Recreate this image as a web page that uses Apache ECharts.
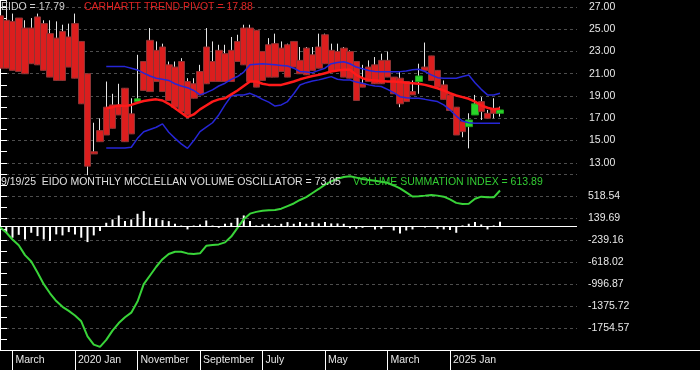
<!DOCTYPE html>
<html><head><meta charset="utf-8">
<script src="https://cdn.jsdelivr.net/npm/echarts@6/dist/echarts.min.js"></script>
<style>html,body{margin:0;padding:0;background:#000}#c{width:700px;height:370px}</style>
</head><body><div id="c"></div>
<script>
// ---- x axis (monthly, Jan 2019 = index 0) ----
const axisMonths = 113;               // axis span in months (Jan 2019 .. May 2028)
const tickIndex = [2, 12, 22, 32, 42, 52, 62, 72];
const tickText = ['March', '2020 Jan', 'November', 'September', 'July', 'May', 'March', '2025 Jan'];
const topTickLabels = ['27.00', '25.00', '23.00', '21.00', '19.00', '17.00', '15.00', '13.00'];
const bottomTickLabels = ['518.54', '139.69', '-239.16', '-618.02', '-996.87', '-1375.72', '-1754.57'];

// ---- price candles (index 0..80 = Jan 2019 .. Sep 2025) ----
const bodyLow = [21.5,21.5,21.3,21.2,21.0,21.9,21.8,21.3,20.7,20.4,
  20.4,21.6,20.6,18.3,12.7,13.8,14.9,15.5,16.1,17.3,
  14.9,15.6,18.5,19.5,19.4,20.3,19.4,18.6,18.0,17.6,
  17.3,18.8,19.1,20.1,20.3,20.3,20.3,20.3,22.1,21.8,
  20.3,19.8,20.4,20.7,20.7,21.2,20.7,21.6,21.0,20.9,
  21.3,21.5,21.9,21.2,21.3,20.7,20.6,18.6,19.8,20.3,
  20.1,20.1,20.7,19.2,18.3,18.5,19.1,20.3,21.3,20.4,
  19.8,18.7,17.7,15.5,15.8,16.25,17.3,17.6,17.0,17.45,
  17.45];
const bodyHigh = [26.2,25.8,25.7,26.0,25.1,25.1,26.1,25.5,24.6,24.2,
  24.8,24.3,25.5,23.9,21.0,14.0,15.9,18.0,18.2,18.2,
  19.7,17.4,18.75,22.1,24.0,23.1,23.4,21.8,21.6,22.1,
  20.3,20.1,21.2,23.4,22.1,23.1,22.8,23.1,23.9,25.1,
  25.1,24.9,23.0,23.6,23.7,23.3,23.6,23.9,22.2,23.3,
  22.7,23.4,24.5,23.1,23.0,23.3,23.0,22.1,20.1,21.6,
  21.8,22.2,22.2,20.7,20.6,20.3,19.4,20.8,21.6,22.6,
  21.3,20.0,19.1,18.0,16.7,16.85,18.3,18.5,17.45,17.9,
  17.75];
const wickLow = [21.5,21.5,21.3,21.2,21.0,21.9,21.8,21.3,20.7,20.4,
  20.4,21.6,20.6,18.3,11.9,13.8,14.9,15.5,16.1,17.3,
  14.9,15.6,18.5,19.5,19.4,20.3,19.4,18.6,18.0,17.6,
  17.3,18.8,19.1,20.1,20.3,20.3,20.3,20.3,22.1,21.8,
  20.3,19.8,20.4,20.7,20.7,21.2,20.7,21.6,21.0,20.9,
  21.3,21.5,21.9,21.2,21.3,20.7,20.6,18.6,19.8,20.3,
  20.1,20.1,20.7,19.2,18.0,18.5,19.1,19.2,21.3,20.4,
  19.8,18.7,17.7,15.5,15.3,14.3,17.3,16.85,17.0,17.0,
  17.15];
const wickHigh = [26.3,27.6,26.4,26.0,25.8,26.0,26.4,25.8,25.8,25.7,
  25.4,25.5,26.4,23.9,21.0,16.6,17.0,20.3,19.2,20.1,
  19.7,18.8,22.7,22.1,25.1,23.9,23.7,22.1,22.1,22.4,
  20.6,20.6,21.8,25.1,23.9,23.6,23.6,24.3,24.5,25.4,
  25.4,24.9,23.0,24.2,24.6,23.9,23.7,23.9,23.4,23.4,
  23.4,24.6,24.6,23.7,23.7,23.4,23.1,22.1,21.8,22.2,
  22.5,22.8,23.0,20.7,21.2,20.3,20.4,21.9,23.8,22.6,
  21.3,20.4,19.1,18.0,16.7,17.45,19.1,18.9,17.75,18.8,
  18.05];
const greenCandles = [22, 67, 75, 76, 80];

// ---- overlay lines (index 17..80) ----
const lineStart = 17;
const trendPivot = [17.9,18.0,18.15,18.1,18.2,18.4,18.55,18.65,18.7,18.6,
  18.3,17.9,17.5,17.1,17.35,17.8,18.15,18.5,18.7,18.8,
  19.15,19.5,19.9,20.3,20.3,20.1,20.0,20.0,20.0,20.15,
  20.3,20.5,20.65,20.8,20.9,21.05,21.2,21.3,21.35,21.35,
  20.9,20.6,20.45,20.4,20.35,20.3,20.3,20.25,20.2,20.15,
  20.1,20.0,19.85,19.7,19.5,19.25,19.05,18.9,18.75,18.5,
  18.15,17.95,17.8,17.88];
const upperBand = [21.64,21.64,21.64,21.64,21.5,21.34,21.05,20.8,20.6,20.5,
  20.4,20.1,19.9,19.75,19.5,19.1,19.3,19.55,19.9,20.15,
  20.5,20.75,21.15,21.8,21.85,21.9,21.85,21.8,21.75,21.7,
  21.5,21.2,21.15,21.1,21.3,21.5,21.9,22.0,22.08,21.9,
  21.6,21.45,21.3,21.2,21.19,21.19,21.19,21.19,21.25,21.35,
  21.4,21.2,20.9,20.65,20.59,20.59,20.6,20.75,20.89,20.2,
  19.6,19.1,19.1,19.24];
const lowerBand = [14.33,14.33,14.33,14.33,14.4,15.2,15.8,16.0,16.2,16.5,
  15.75,15.2,14.7,14.3,15.0,15.8,16.2,16.6,17.3,18.2,
  19.0,19.1,19.1,19.24,19.0,18.7,18.45,18.1,18.2,18.5,
  19.2,19.99,20.2,20.35,20.45,20.6,20.74,20.5,20.44,20.44,
  20.25,20.14,20.0,19.9,19.85,19.6,19.3,18.94,18.85,18.8,
  18.79,18.7,18.6,18.5,18.2,17.75,17.2,16.75,16.6,16.55,
  16.55,16.55,16.55,16.55];

// ---- lower panel (index 0..80) ----
const oscillator = [-60,-115,-200,-150,-230,-115,-172,-230,-258,-143,
  -160,-103,-143,-200,-275,-160,-86,57,115,184,
  86,115,212,258,143,132,103,86,40,10,
  -57,10,29,97,10,-29,40,57,143,184,
  86,11,29,40,10,40,69,40,69,40,
  69,46,69,46,46,40,-35,-46,-29,-10,
  -57,-46,-15,-75,-126,-75,-57,-15,-25,-15,
  -46,-57,-69,-115,11,40,69,29,-57,11,
  73.05];
const summation = [-20,-110,-230,-330,-500,-610,-800,-1000,-1157,-1290,
  -1390,-1460,-1540,-1640,-1900,-2040,-2080,-1960,-1800,-1670,
  -1570,-1490,-1300,-1000,-850,-700,-570,-480,-441,-441,
  -470,-480,-468,-340,-325,-315,-280,-180,-30,120,
  215,245,265,275,277,300,345,390,450,500,
  570,640,715,770,815,845,860,835,810,795,
  780,765,745,700,650,580,510,515,525,536,
  525,507,460,400,380,385,470,507,496,496,
  613.89];

const FONT = '"Liberation Sans", Arial, sans-serif';
const botMin = -2133.42, botInterval = 189.425, botMax = 897.38;
const monthCats = Array.from({length: axisMonths}, (_, i) => String(i));

const red = {color: '#dc1e1e', color0: '#dc1e1e', borderColor: '#8e3434', borderColor0: '#8e3434', borderWidth: 1};
const green = {color: '#28d428', color0: '#28d428', borderColor: '#1f9f1f', borderColor0: '#1f9f1f', borderWidth: 1};

const chart = echarts.init(document.getElementById('c'), null, {renderer: 'canvas'});
chart.setOption({
  backgroundColor: '#000',
  animation: false,
  title: [
    {text: 'EIDO = 17.79', left: 1, top: 2, padding: 0, textStyle: {color: '#cfcfcf', fontSize: 10.5, fontWeight: 'normal', fontFamily: FONT}},
    {text: 'CARHARTT TREND PIVOT = 17.88', left: 84, top: 2, padding: 0, textStyle: {color: '#dd2222', fontSize: 10.5, fontWeight: 'normal', fontFamily: FONT}},
    {text: '9/19/25  EIDO MONTHLY MCCLELLAN VOLUME OSCILLATOR = 73.05', left: 1, top: 177, padding: 0, textStyle: {color: '#e0e0e0', fontSize: 10.5, fontWeight: 'normal', fontFamily: FONT}},
    {text: 'VOLUME SUMMATION INDEX = 613.89', left: 353, top: 177, padding: 0, textStyle: {color: '#33cc33', fontSize: 10.5, fontWeight: 'normal', fontFamily: FONT}}
  ],
  grid: [
    {left: 0, right: 123, top: 0, height: 174},
    {left: 0, right: 123, top: 174, height: 176},
    {left: 0, right: 0, top: 174, height: 176}
  ],
  xAxis: [
    {type: 'value', gridIndex: 0, min: 0, max: 92.32, show: false},
    {type: 'value', gridIndex: 1, min: 0, max: 92.32, show: false},
    {type: 'category', gridIndex: 2, data: monthCats, boundaryGap: false,
      axisLine: {show: true, lineStyle: {color: '#ffffff', width: 1}},
      axisTick: {show: true, interval: (i) => tickIndex.includes(i), length: 20, lineStyle: {color: '#ffffff'}},
      axisLabel: {interval: (i) => tickIndex.includes(i), formatter: (v, i) => {const k = tickIndex.indexOf(Number(v)); return k >= 0 ? tickText[k] : '';},
        color: '#e6e6e6', fontSize: 10.5, fontFamily: FONT, align: 'left', margin: 5, padding: [0, 0, 0, 3]},
      splitLine: {show: false}}
  ],
  yAxis: [
    {type: 'value', gridIndex: 0, position: 'right', min: 12, max: 27.62, interval: 1,
      axisLine: {show: true, lineStyle: {color: '#ffffff'}},
      axisTick: {show: true, length: 7, lineStyle: {color: '#ffffff'}},
      axisLabel: {color: '#e8e8e8', fontSize: 10.5, fontFamily: FONT, margin: 12, showMinLabel: true, showMaxLabel: true,
        formatter: (v) => {const r = Math.round(v); if (Math.abs(v - r) > 1e-6 || Math.abs(r % 2) !== 1) return ''; const k = (27 - r) / 2; return topTickLabels[k] || '';}},
      splitLine: {show: true, lineStyle: {color: ['rgba(0,0,0,0)', '#4d4d4d'], type: [3, 3], width: 1}}},
    {type: 'value', gridIndex: 1, position: 'right', min: botMin, max: botMax, interval: botInterval,
      axisLine: {show: true, lineStyle: {color: '#ffffff'}},
      axisTick: {show: true, length: 7, lineStyle: {color: '#ffffff'}},
      axisLabel: {color: '#e8e8e8', fontSize: 10.5, fontFamily: FONT, margin: 11, showMinLabel: true, showMaxLabel: true,
        formatter: (v) => {const k = Math.round((v - botMin) / botInterval); if (k % 2 !== 0) return ''; const j = (14 - k) / 2; return (j >= 0 && j < bottomTickLabels.length) ? bottomTickLabels[j] : '';}},
      splitLine: {show: true, lineStyle: {color: ['#4d4d4d', 'rgba(0,0,0,0)'], type: [3, 3], width: 1}}},
    {type: 'value', gridIndex: 2, show: false}
  ],
  series: [
    {name: 'wicks', type: 'candlestick', xAxisIndex: 0, yAxisIndex: 0, barWidth: 1,
      itemStyle: {color: '#e6e6e6', color0: '#e6e6e6', borderColor: '#e6e6e6', borderColor0: '#e6e6e6', borderWidth: 1},
      data: wickLow.map((l, i) => [i, l, l, l, wickHigh[i]])},
    {name: 'EIDO', type: 'candlestick', xAxisIndex: 0, yAxisIndex: 0, barWidth: 7,
      data: bodyLow.map((l, i) => ({value: [i, l, bodyHigh[i], l, bodyHigh[i]], itemStyle: greenCandles.includes(i) ? green : red}))},
    {name: 'upper', type: 'line', xAxisIndex: 0, yAxisIndex: 0, showSymbol: false,
      lineStyle: {color: '#2626d6', width: 1.5}, data: upperBand.map((v, k) => [lineStart + k, v])},
    {name: 'lower', type: 'line', xAxisIndex: 0, yAxisIndex: 0, showSymbol: false,
      lineStyle: {color: '#2626d6', width: 1.5}, data: lowerBand.map((v, k) => [lineStart + k, v])},
    {name: 'pivot', type: 'line', xAxisIndex: 0, yAxisIndex: 0, showSymbol: false,
      lineStyle: {color: '#ff1a1a', width: 2.5}, data: trendPivot.map((v, k) => [lineStart + k, v])},
    {name: 'osc', type: 'bar', xAxisIndex: 1, yAxisIndex: 1, barWidth: 2,
      itemStyle: {color: '#ffffff'}, data: oscillator.map((v, i) => [i, v]),
      markLine: {silent: true, symbol: ['none', 'none'], label: {show: false},
        lineStyle: {color: '#ffffff', width: 1, type: 'solid'}, data: [{yAxis: 0}]}},
    {name: 'sum', type: 'line', xAxisIndex: 1, yAxisIndex: 1, showSymbol: false,
      lineStyle: {color: '#39d439', width: 2}, data: summation.map((v, i) => [i, v])}
  ]
});
</script></body></html>
